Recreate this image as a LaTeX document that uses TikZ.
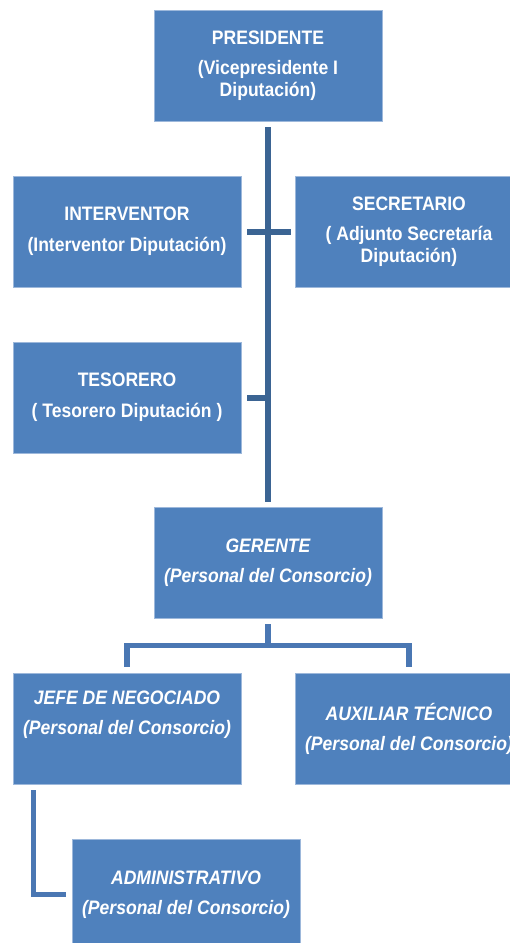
\documentclass[tikz,border=0pt]{standalone}
\usepackage{fontspec}
\newfontfamily\orgfont{Liberation Sans}[FakeStretch=0.9]
\usetikzlibrary{positioning}
\definecolor{boxblue}{HTML}{4F81BD}
\definecolor{boxedge}{HTML}{9DB8DB}
\definecolor{trunkblue}{HTML}{3B6493}
\definecolor{branchblue}{HTML}{4A77B3}

\begin{document}
\begin{tikzpicture}[x=1pt,y=-1pt,
  cargo/.style={rectangle,fill=boxblue,draw=boxedge,line width=0.8pt,
    minimum width=228pt,minimum height=111pt,inner sep=0pt,align=center,
    text=white,font=\orgfont\bfseries\fontsize{19.5}{22}\selectfont},
  personal/.style={cargo,font=\orgfont\bfseries\itshape\fontsize{19.5}{22}\selectfont},
  trunk/.style={draw=trunkblue,line width=6pt},
  branch/.style={draw=branchblue,line width=5.5pt}]
\useasboundingbox (0,0) rectangle (510,943);

% organos de gobierno
\node [cargo] (pres) at (268,65.5) {PRESIDENTE\\[8pt](Vicepresidente I\\Diputación)};
\node [cargo] (interv) at (127,231.5) {INTERVENTOR\\[9pt](Interventor Diputación)};
\node [cargo] (secr) at (409,231.5) {SECRETARIO\\[8pt]( Adjunto Secretaría\\Diputación)};
\node [cargo] (tes) at (127,397.5) {TESORERO\\[9pt]( Tesorero Diputación )};

% personal del consorcio
\node [personal] (ger) at (268,562.5) {GERENTE\\[8pt](Personal del Consorcio)};
\node [personal] (jefe) at (127,728.5) {JEFE DE NEGOCIADO\\[8pt](Personal del Consorcio)\\[10pt]~};
\node [personal] (aux) at (409,728.5) {AUXILIAR TÉCNICO\\[8pt](Personal del Consorcio)};
\node [personal] (admin) at (186,894.5) {ADMINISTRATIVO\\[8pt](Personal del Consorcio)};

% lineas
\draw [trunk,shorten <=6pt,shorten >=5pt] (pres.south) -- (ger.north);
\draw [trunk,shorten <=6pt,shorten >=4pt] (interv.east) -- (secr.west);
\draw [trunk,shorten <=6pt] (tes.east) -- (tes.east -| pres.south);
\draw [branch] ([yshift=-6pt]ger.south) -- ([yshift=-27pt]ger.south);
\draw [branch] ([yshift=6pt]jefe.north) |- ([yshift=-27pt]ger.south) -| ([yshift=6pt]aux.north);
\draw [branch] ([xshift=21pt,yshift=-6pt]jefe.south west) |- ([xshift=-6pt]admin.west);

\end{tikzpicture}
\end{document}
